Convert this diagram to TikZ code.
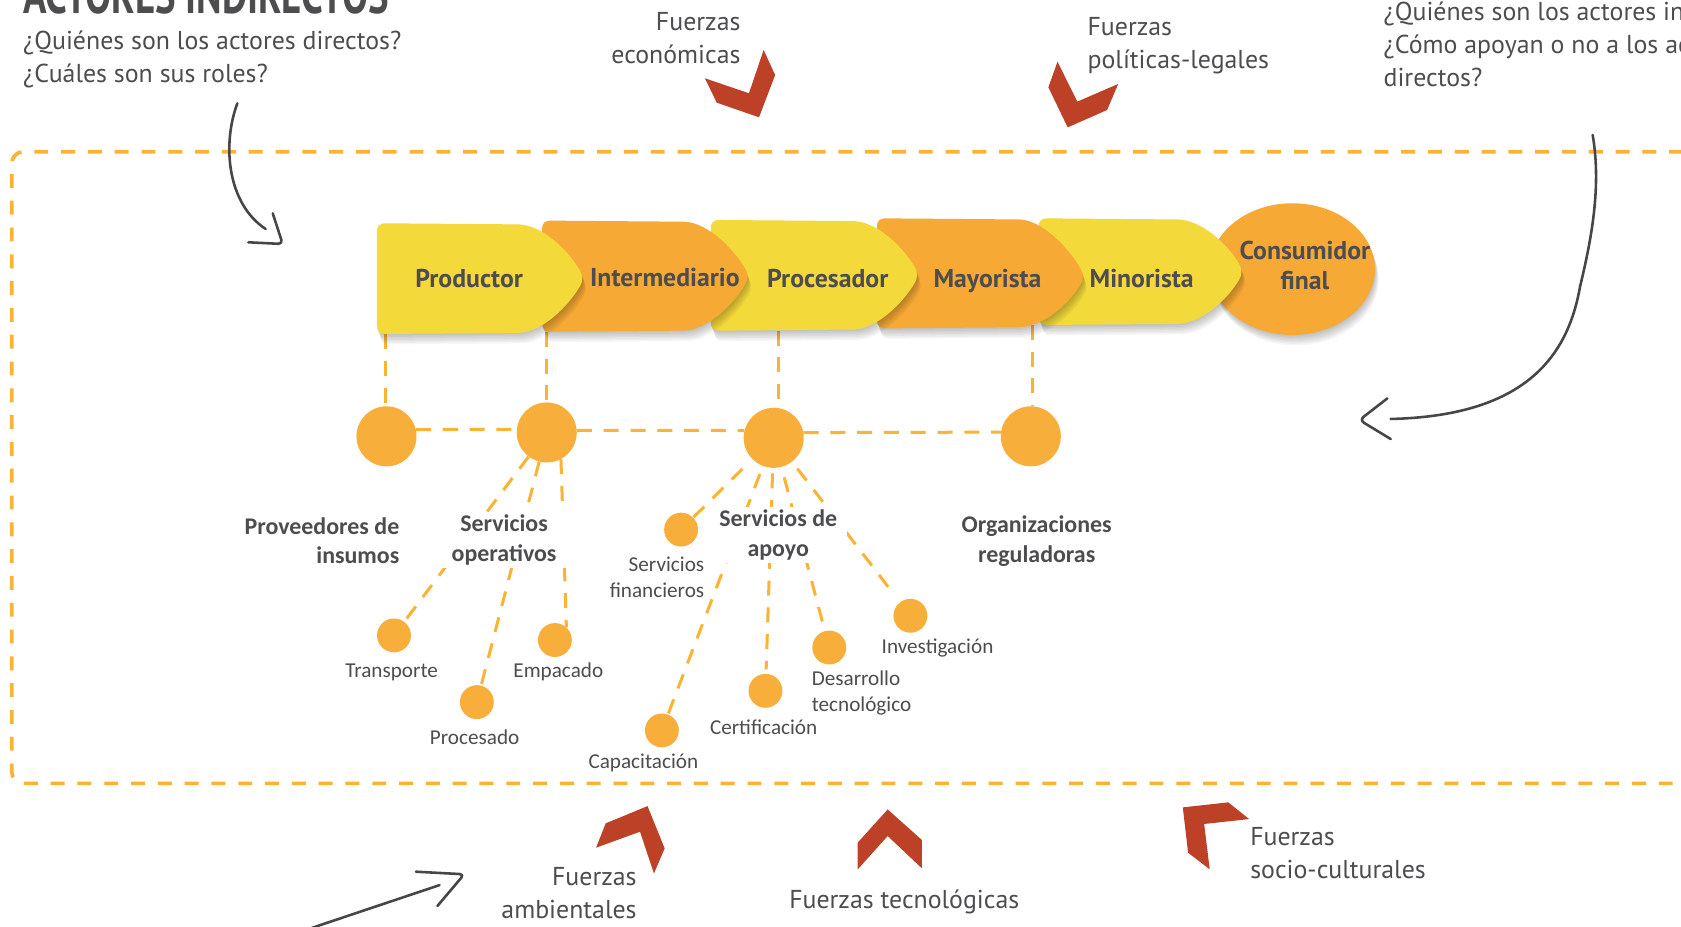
\documentclass[tikz,border=0pt]{standalone}
\usepackage{fontspec}
\newfontfamily\ptsans{PT Sans}
\newfontfamily\carlito{Carlito}
\usetikzlibrary{calc}
\definecolor{txt}{HTML}{4D4D4F}
\definecolor{yel}{HTML}{F4D93B}
\definecolor{org}{HTML}{F6A935}
\definecolor{circ}{HTML}{F8AE3A}
\definecolor{dashc}{HTML}{FBB334}
\definecolor{frc}{HTML}{BC4126}
\definecolor{arr}{HTML}{464648}
\newbox\fitbox
\newcommand\fitsize[4]{%
  \setbox\fitbox=\hbox{#2\fontsize{10pt}{12pt}\selectfont #3}%
  \pgfmathsetmacro\tmpsz{10*#4/\the\wd\fitbox}%
  \global\let#1\tmpsz}
\AtBeginDocument{%
\fitsize\szA{\ptsans}{políticas-legales}{169.2}%
\fitsize\szB{\ptsans\bfseries}{Intermediario}{139.5}%
\fitsize\szC{\carlito\bfseries}{Organizaciones}{140}%
\fitsize\szD{\carlito}{Investigación}{104.2}%
\fitsize\szT{\ptsans\bfseries}{ACTORES INDIRECTOS}{341}}
% chain arrow shape: x0, top, bottom, xtip, ytip, options
\newcommand\chainfill[6]{%
  \fill[#6] (#1+1,#2+9) .. controls (#1+1,#2+2) and (#1+3,#2) .. (#1+10,#2)
    -- (#4-60,#2+1)
    .. controls (#4-38,#2+2) and (#4-14,#5-26) .. (#4-3,#5-7)
    .. controls (#4-0.5,#5-3) and (#4-0.5,#5+3) .. (#4-3,#5+7)
    .. controls (#4-14,#5+26) and (#4-38,#3-2) .. (#4-60,#3-1)
    -- (#1+10,#3)
    .. controls (#1+3,#3) and (#1+1,#3-2) .. (#1+1,#3-9) -- cycle;}
\newcommand\chainshape[6]{%
  \foreach \k in {1,...,7}{\chainfill{#1}{#2}{#3}{#4}{#5}{black,opacity=0.035,shift={(0.5*\k,1.4*\k)}}}%
  \chainfill{#1}{#2}{#3}{#4}{#5}{#6}}
\tikzset{
  lbl/.style={text=txt, inner sep=0pt},
  qtxt/.style={lbl, font=\ptsans\fontsize{\szA pt}{31pt}\selectfont},
  chtxt/.style={lbl, font=\ptsans\bfseries\fontsize{\szB pt}{28.6pt}\selectfont},
  mtxt/.style={text=txt, inner sep=0pt, font=\carlito\bfseries\fontsize{\szC pt}{27.5pt}\selectfont},
  mtxtw/.style={mtxt, fill=white, inner xsep=9pt, inner ysep=3pt},
  stxt/.style={lbl, font=\carlito\fontsize{\szD pt}{24.5pt}\selectfont},
  bigc/.style={circle, fill=circ, minimum size=56pt, inner sep=0pt},
  smallc/.style={circle, fill=circ, minimum size=31.6pt, inner sep=0pt},
  ldash/.style={draw=dashc, line width=2.8pt, dash pattern=on 14pt off 11pt},
  odash/.style={draw=dashc, line width=3.4pt, dash pattern=on 13pt off 12pt},
  garrow/.style={draw=arr, line width=2.4pt, line cap=round, line join=round},
  force/.style={fill=frc},
}
\begin{document}
\begin{tikzpicture}[x=1pt,y=-1pt]
\useasboundingbox (0,0) rectangle (1568,863.8);
\clip (0,0) rectangle (1568,863.8);
\fill[white] (0,0) rectangle (1568,863.8);

% outer dashed frame
\draw[odash, rounded corners=11pt] (1620,141.5) -- (10.9,141.5) -- (10.9,730.7) -- (1620,730.7);

% top texts (for several lines, the base anchor is on the last line)
\node[anchor=base west, text=txt, inner sep=0pt, yscale=1.4, font=\ptsans\bfseries\fontsize{\szT pt}{30pt}\selectfont] (title) at (21.4,13) {ACTORES INDIRECTOS};
\node[qtxt, anchor=base west, align=left] (qleft) at (21.4,77) {¿Quiénes son los actores directos?\\¿Cuáles son sus roles?};
\node[qtxt, anchor=base west, align=left] (qright) at (1290.4,81) {¿Quiénes son los actores indirectos?\\¿Cómo apoyan o no a los actores\\directos?};
\node[qtxt, anchor=base east, align=right] (feco) at (690.9,59.5) {Fuerzas\\económicas};
\node[qtxt, anchor=base west, align=left] (fpol) at (1014.3,63.7) {Fuerzas\\políticas-legales};
\node[qtxt, anchor=base east, align=right] (famb) at (594,857) {Fuerzas\\ambientales};
\node[qtxt, anchor=base west] (ftec) at (736,847) {Fuerzas tecnológicas};
\node[qtxt, anchor=base west, align=left] (fsoc) at (1166,819.5) {Fuerzas\\socio-culturales};

% red force chevrons
\fill[force] (712.3,46.6) -- (723,70) -- (708,109.4) -- (668.6,95.8) -- (657.5,73) -- (698.6,87) -- cycle;
\fill[force] (986.4,57.5) -- (977.9,81.5) -- (995.9,118.8) -- (1032.7,102.6) -- (1043,78.3) -- (1004.9,94.8) -- cycle;
\fill[force] (604,751.9) -- (565,768) -- (556,790.7) -- (597,775.8) -- (610,814.7) -- (620,791.4) -- cycle;
\fill[force] (828,755) -- (860,783.6) -- (860,810) -- (828,779.8) -- (800,811) -- (800,786) -- cycle;
\fill[force] (1103.3,753.1) -- (1145.7,748.4) -- (1165.2,764) -- (1123.2,768.6) -- (1128.4,810.9) -- (1108.2,795.4) -- cycle;

% grey hand-drawn arrows
\coordinate (la0) at (221.4,96.4);
\coordinate (la1) at (247.8,213.6);
\draw[garrow] (la0) .. controls (207,135) and (212,190) .. (la1);
\draw[garrow, rounded corners=4pt] (254.4,199) -- (263.7,227.6) -- (231.6,226);
\coordinate (ra0) at (1485.6,125.9);
\coordinate (ra1) at (1297.2,390.8);
\draw[garrow] (ra0) .. controls (1494,175) and (1484,225) .. (1473.8,267.4) .. controls (1462,335) and (1420,388) .. (ra1);
\draw[garrow, rounded corners=5pt] (1294.1,371.6) -- (1268,391.8) -- (1297.2,409.5);
\coordinate (ba0) at (288,866.5);
\coordinate (ba1) at (410,825.6);
\draw[garrow] (ba0) -- (ba1);
\draw[garrow, rounded corners=4pt] (388,813.1) -- (433,815.5) -- (408,845.1);

% big circles and vertical connectors from the chain
\node[bigc] (c1) at (360.5,407) {};
\node[bigc] (c2) at (510,403.4) {};
\node[bigc] (c3) at (721.7,408.4) {};
\node[bigc] (c4) at (961.5,407) {};
\coordinate (v1) at (359.4,311.5);
\coordinate (v2) at (510,309.4);
\coordinate (v3) at (725.8,308.4);
\coordinate (v4) at (963.3,303);
\draw[ldash] (v1) -- (v1 |- c1.north);
\draw[ldash] (v2) -- (v2 |- c2.north);
\draw[ldash] (v3) -- (v3 |- c3.north);
\draw[ldash] (v4) -- (v4 |- c4.north);

% chain (drawn right to left so that each arrow lies over the next)
\foreach \k in {1,...,7}{\fill[black,opacity=0.035,shift={(0.5*\k,1.4*\k)}] (1205.5,251) ellipse [x radius=77pt, y radius=61.4pt];}
\fill[org] (1205.5,251) ellipse [x radius=77pt, y radius=61.4pt];
\chainshape{967.9}{203.7}{303.1}{1159.1}{253.5}{yel}
\chainshape{817}{203.7}{306.3}{1011.1}{258}{org}
\chainshape{662}{205.2}{308.4}{856.5}{256.5}{yel}
\chainshape{504.7}{205.8}{309.4}{698.3}{258}{org}
\chainshape{350.6}{208.3}{311.5}{544.2}{259.6}{yel}
\node[chtxt, anchor=base] (prod) at (437.6,268) {Productor};
\node[chtxt, anchor=base] (inter) at (620.2,266.8) {Intermediario};
\node[chtxt, anchor=base] (proc) at (772.1,268) {Procesador};
\node[chtxt, anchor=base] (mayo) at (921.1,268) {Mayorista};
\node[chtxt, anchor=base] (mino) at (1064.9,268) {Minorista};
\node[chtxt, anchor=base, align=center] (cons) at (1217.2,270.5) {Consumidor\\final};

% small circles
\node[smallc] (tra) at (367.5,592.7) {};
\node[smallc] (pro) at (444.8,654.9) {};
\node[smallc] (emp) at (517.6,597) {};
\node[smallc] (fin) at (635.3,494) {};
\node[smallc] (cap) at (617.4,681.3) {};
\node[smallc] (cer) at (714,644.4) {};
\node[smallc] (des) at (773.5,604) {};
\node[smallc] (inv) at (849.2,574.4) {};

% dashed connectors
\draw[ldash] (c1.13) -- (c2.174);
\draw[ldash] (c2.4) -- (c3.166);
\draw[ldash] (c3.10) -- (c4.172);
\draw[ldash] (c2) -- (tra);
\draw[ldash] (c2) -- (pro);
\draw[ldash] (c2.-62) -- (emp.48);
\draw[ldash, shorten <=13pt] (c3) -- (fin);
\draw[ldash, shorten <=8pt] (c3) -- (cap);
\draw[ldash, shorten <=5pt, shorten >=4pt] (c3) -- (cer);
\draw[ldash, shorten <=10pt, shorten >=7pt] (c3) -- (des);
\draw[ldash, shorten <=8pt, shorten >=17pt] (c3) -- (inv);

% labels
\node[mtxt, anchor=base east, align=right] (lprov) at (372.7,526) {Proveedores de\\insumos};
\node[mtxtw, anchor=base, align=center] (lope) at (470.2,523.5) {Servicios\\operativos};
\node[mtxtw, anchor=base, align=center] (lapo) at (725.9,519) {Servicios de\\apoyo};
\node[mtxt, anchor=base, align=center] (lorg) at (967,524.5) {Organizaciones\\reguladoras};
\node[stxt, anchor=base east, align=right] (lfin) at (657.1,557.5) {Servicios\\financieros};
\node[stxt, anchor=base] (ltra) at (365.3,632) {Transporte};
\node[stxt, anchor=base] (lemp) at (520.8,631.5) {Empacado};
\node[stxt, anchor=base] (lpro) at (442.7,694.5) {Procesado};
\node[stxt, anchor=base] (lcer) at (712.3,685) {Certificación};
\node[stxt, anchor=base west, align=left] (ldes) at (757,663.5) {Desarrollo\\tecnológico};
\node[stxt, anchor=base] (lcap) at (600.1,717) {Capacitación};
\node[stxt, anchor=base] (linv) at (874.5,609.5) {Investigación};
\end{tikzpicture}
\end{document}
